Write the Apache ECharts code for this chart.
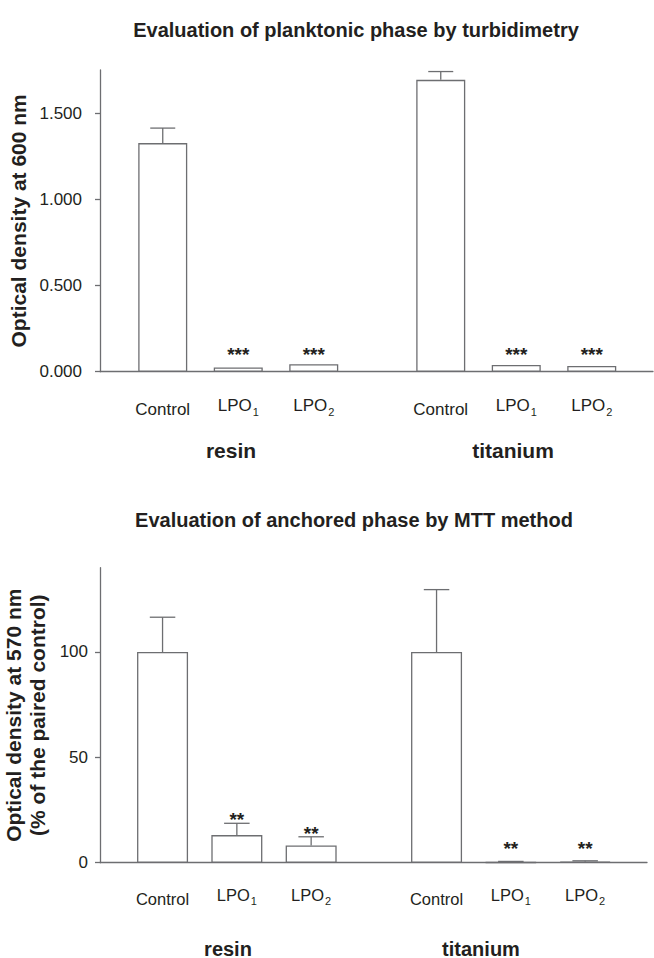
<!DOCTYPE html>
<html><head><meta charset="utf-8">
<script src="https://cdn.jsdelivr.net/npm/echarts@6/dist/echarts.min.js"></script>
<style>html,body{margin:0;padding:0;background:#fff}#c{width:654px;height:958px}</style>
</head><body><div id="c"></div>
<script>
// ---------- data ----------
const categories = ['Control', 'LPO1', 'LPO2'];
const groupNames = ['resin', 'titanium'];

// Top panel: planktonic phase, optical density at 600 nm
const plankTitle = 'Evaluation of planktonic phase by turbidimetry';
const plankYName = 'Optical density at 600 nm';
const plankResinMean = [1.326, 0.025, 0.043];
const plankResinErr = [0.087, 0, 0];
const plankResinSig = ['', '***', '***'];
const plankTitanMean = [1.693, 0.039, 0.033];
const plankTitanErr = [0.048, 0, 0];
const plankTitanSig = ['', '***', '***'];
const plankTicks = [0, 0.5, 1.0, 1.5];
const plankMax = 1.75;

// Bottom panel: anchored phase, MTT, % of paired control
const anchTitle = 'Evaluation of anchored phase by MTT method';
const anchYName = 'Optical density at 570 nm\n(% of the paired control)';
const anchResinMean = [100, 13.1, 8.2];
const anchResinErr = [16.5, 5.6, 4.1];
const anchResinSig = ['', '**', '**'];
const anchTitanMean = [100, 0.2, 0.5];
const anchTitanErr = [29.6, 0.4, 0.4];
const anchTitanSig = ['', '**', '**'];
const anchTicks = [0, 50, 100];
const anchMax = 140;

// ---------- style ----------
const FONT = '"Liberation Sans", Arial, Helvetica, sans-serif';
const INK = '#231f20';
const LINE = '#6d6e71';
const LW = 1.3;

const option = { animation: false, backgroundColor: '#fff', grid: [], xAxis: [], yAxis: [], series: [], graphic: [] };

function catFormatter(v) {
  const m = String(v).match(/^(\D+)(\d)$/);
  return m ? '{m|' + m[1] + '}{s|' + m[2] + '}' : v;
}

function addPanel(p) {
  const gi = option.grid.length;
  option.grid.push({ left: 100, top: p.top, width: p.frameWidth, height: p.height });
  option.xAxis.push({
    gridIndex: gi, type: 'value', min: 0, max: 1,
    axisLine: { show: true, lineStyle: { color: LINE, width: LW } },
    axisTick: { show: false }, axisLabel: { show: false }, splitLine: { show: false }
  });
  option.yAxis.push({
    gridIndex: gi, type: 'value', min: 0, max: p.max,
    axisLine: { show: true, lineStyle: { color: LINE, width: LW } },
    axisTick: { show: true, inside: false, length: 5, customValues: p.ticks, lineStyle: { color: LINE, width: LW } },
    axisLabel: { customValues: p.ticks, formatter: p.fmt, fontSize: 17, color: INK, fontFamily: FONT, margin: p.labelMargin },
    splitLine: { show: false }
  });
  // axis title (rotated) and panel title
  option.graphic.push({
    type: 'text', x: p.yNameX, y: p.top + p.height / 2, rotation: Math.PI / 2,
    style: { text: p.yName, font: 'bold 21px ' + FONT, lineHeight: 24, fill: INK, textAlign: 'center', textVerticalAlign: 'middle' }
  });
  option.graphic.push({
    type: 'text', x: p.titleX, y: p.titleY,
    style: { text: p.title, font: 'bold 20px ' + FONT, fill: INK, textAlign: 'center', textVerticalAlign: 'middle' }
  });

  p.groups.forEach((g) => {
    const idx = option.grid.length;
    option.grid.push({ left: g.left, top: p.top, width: p.groupWidth, height: p.height });
    option.xAxis.push({
      gridIndex: idx, type: 'category', data: categories,
      axisLine: { show: false }, axisTick: { show: false }, splitLine: { show: false },
      axisLabel: {
        interval: 0, hideOverlap: false,
        margin: p.catMargin, verticalAlign: 'middle', fontSize: p.catFont, lineHeight: 17,
        color: INK, fontFamily: FONT, formatter: catFormatter,
        rich: {
          m: { fontSize: p.catFont, lineHeight: 14, padding: [0, 0, 8, 0], color: INK, fontFamily: FONT },
          s: { fontSize: 11, lineHeight: 12, padding: [7.7, 0, 2.3, 1], color: INK, fontFamily: FONT }
        }
      }
    });
    option.yAxis.push({ gridIndex: idx, type: 'value', min: 0, max: p.max, show: false });
    option.series.push({
      type: 'bar', xAxisIndex: idx, yAxisIndex: idx, data: g.mean, barWidth: p.barWidth, silent: true,
      itemStyle: { color: '#ffffff', borderColor: LINE, borderWidth: LW }
    });
    option.series.push({
      type: 'custom', xAxisIndex: idx, yAxisIndex: idx, silent: true, z: 5,
      data: g.mean.map((m, i) => [i, m, g.err[i]]),
      renderItem: function (params, api) {
        const i = api.value(0), m = api.value(1), e = api.value(2);
        const top = api.coord([i, m]);
        const eTop = api.coord([i, m + e]);
        const base = api.coord([i, 0]);
        const ch = [];
        if (e > 0) {
          ch.push({ type: 'line', shape: { x1: top[0], y1: top[1], x2: top[0], y2: eTop[1] }, style: { stroke: LINE, lineWidth: LW } });
          ch.push({ type: 'line', shape: { x1: top[0] - p.cap / 2, y1: eTop[1], x2: top[0] + p.cap / 2, y2: eTop[1] }, style: { stroke: LINE, lineWidth: LW } });
        }
        const sig = g.sig[i];
        if (sig) {
          const cy = Math.min(eTop[1] - p.starAbove, base[1] - p.starMinGap);
          ch.push({ type: 'text', x: top[0], y: cy + 4.5,
            style: { text: sig, font: 'bold 19px ' + FONT, fill: INK, textAlign: 'center', textVerticalAlign: 'middle' } });
        }
        return { type: 'group', children: ch };
      }
    });
    option.graphic.push({
      type: 'text', x: g.labelX, y: p.groupLabelY,
      style: { text: g.name, font: 'bold ' + p.groupFont + 'px ' + FONT, fill: INK, textAlign: 'center', textVerticalAlign: 'middle' }
    });
  });
}

addPanel({
  title: plankTitle, titleX: 356, titleY: 30, yName: plankYName, yNameX: 18.5,
  top: 70, height: 301.7, frameWidth: 553, max: plankMax, ticks: plankTicks,
  fmt: v => v.toFixed(3), labelMargin: 18,
  groupWidth: 226.5, barWidth: 49, cap: 25, catMargin: 37.8, catFont: 17,
  starAbove: 8, starMinGap: 21.5, groupLabelY: 450, groupFont: 21,
  groups: [
    { name: groupNames[0], left: 125, labelX: 231, mean: plankResinMean, err: plankResinErr, sig: plankResinSig },
    { name: groupNames[1], left: 403, labelX: 513, mean: plankTitanMean, err: plankTitanErr, sig: plankTitanSig }
  ]
});

addPanel({
  title: anchTitle, titleX: 354, titleY: 520, yName: anchYName, yNameX: 25,
  top: 567.7, height: 295, frameWidth: 547, max: anchMax, ticks: anchTicks,
  fmt: v => String(Math.round(v)), labelMargin: 12,
  groupWidth: 222.9, barWidth: 51, cap: 25.5, catMargin: 36, catFont: 16.5,
  starAbove: 8, starMinGap: 19, groupLabelY: 948.5, groupFont: 20,
  groups: [
    { name: groupNames[0], left: 125.4, labelX: 228, mean: anchResinMean, err: anchResinErr, sig: anchResinSig },
    { name: groupNames[1], left: 399.4, labelX: 481, mean: anchTitanMean, err: anchTitanErr, sig: anchTitanSig }
  ]
});

const chart = echarts.init(document.getElementById('c'), null, { renderer: 'svg', width: 654, height: 958 });
chart.setOption(option);
</script>
</body></html>
